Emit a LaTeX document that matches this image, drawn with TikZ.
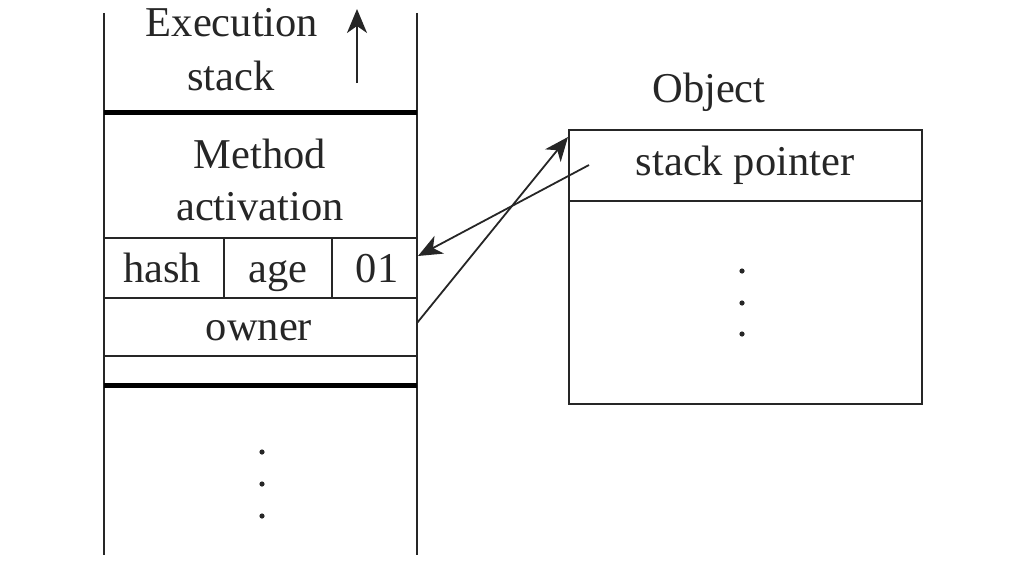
\documentclass[tikz,border=0pt]{standalone}
\usepackage{fontspec}
\setmainfont{Liberation Serif}
\usetikzlibrary{arrows.meta}
\begin{document}
\begin{tikzpicture}[x=1pt,y=-1pt,
  thinline/.style={line width=1.8pt, draw=black!85},
  thickline/.style={line width=5pt, draw=black},
  lbl/.style={anchor=base, inner sep=0pt, font=\fontsize{42.5}{48}\selectfont, text=black!85},
  arr/.style={line width=1.8pt, draw=black!85, -{Stealth[length=24pt,width=20pt,inset=7pt]}},
  dotstyle/.style={fill=black!85, draw=none}]
\useasboundingbox (0,0) rectangle (1014,578);
% execution stack
\draw[thinline] (104,13) -- (104,555);
\draw[thinline] (417,13) -- (417,555);
\draw[thickline] (104,112) -- (417,112);
\draw[thickline] (104,385) -- (417,385);
\draw[thinline] (104,238) -- (417,238);
\draw[thinline] (104,298) -- (417,298);
\draw[thinline] (104,356) -- (417,356);
\draw[thinline] (224,238) -- (224,298);
\draw[thinline] (332,238) -- (332,298);
\coordinate (upS) at (357,83);
\coordinate (upE) at (357,9);
\draw[arr] (upS) -- (upE);
\node[lbl] (exec) at (232,37) {Execution};
\node[lbl] (stk) at (231,90) {stack};
\node[lbl] (meth) at (260,168) {Method};
\node[lbl] (act) at (260,220) {activation};
\node[lbl] (hash) at (162,282) {hash};
\node[lbl] (age) at (278,282) {age};
\node[lbl] (zo) at (377,282) {01};
\node[lbl] (own) at (259,340) {owner};
\foreach \y in {452,484,516} \fill[dotstyle] (262,\y) circle (2.6pt);
% object
\draw[thinline] (569,130) rectangle (922,404);
\draw[thinline] (569,201) -- (922,201);
\node[lbl] (obj) at (709,102) {Object};
\node[lbl] (sp) at (745,175) {stack pointer};
\foreach \y in {271,303,334} \fill[dotstyle] (742,\y) circle (2.6pt);
% connectors
\coordinate (spL) at (589,165);
\coordinate (hashR) at (418,256);
\coordinate (ownR) at (417,323);
\coordinate (objTL) at (568,137);
\draw[arr] (spL) -- (hashR);
\draw[arr] (ownR) -- (objTL);
\end{tikzpicture}
\end{document}
